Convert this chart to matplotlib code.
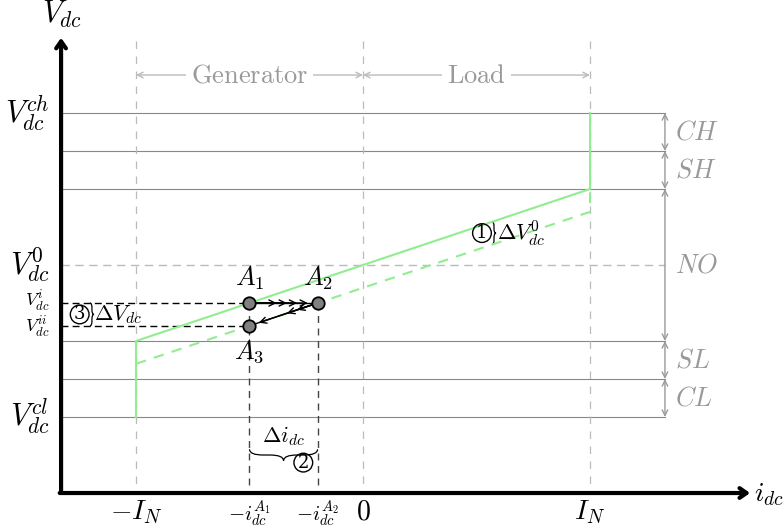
"""
DC voltage droop diagram: operating zones, droop line shift and
operating point moves A1 -> A2 -> A3.
"""
import matplotlib

matplotlib.use('Agg')
import matplotlib.pyplot as plt
from matplotlib.path import Path
from matplotlib.patches import PathPatch

plt.rcParams['mathtext.fontset'] = 'cm'
plt.rcParams['font.family'] = 'DejaVu Serif'

# --- diagram values (x in units of I_N, y in voltage-band steps) ---
level_vals = [4, 3, 2, -2, -3, -4]
zone_names = ['CH', 'SH', 'NO', 'SL', 'CL']
zone_mid = [3.5, 2.5, 0.0, -2.5, -3.5]
droop_x = [-1, -1, 1, 1]
droop_y = [-4, -2, 2, 4]
shifted_x = [-1, 1, 1]
shifted_y = [-2.6, 1.4, 2]
point_x = [-0.5, -0.2, -0.5]
point_y = [-1.0, -1.0, -1.6]
point_names = [r'$A_1$', r'$A_2$', r'$A_3$']
xtick_vals = [-1, -0.5, -0.2, 0, 1]
xtick_labels = [r'$-I_N$', r'$-i_{dc}^{A_1}$', r'$-i_{dc}^{A_2}$', r'$0$', r'$I_N$']
xtick_sizes = [20, 15, 15, 20, 20]
ytick_vals = [4, 0, -0.97, -1.63, -4]
ytick_labels = [r'$V_{dc}^{ch}$', r'$V_{dc}^{0}$', r'$V_{dc}^{i}$', r'$V_{dc}^{ii}$', r'$V_{dc}^{cl}$']
ytick_sizes = [22, 22, 13, 13, 22]
region_edges = [-1, 0, 1]
region_names = ['Generator', 'Load']

X0, Y0 = -1.33, -6.0      # origin of the drawn axes
XR = 1.33                 # right end of level lines / zone bracket
GREEN = '#90ee90'
LGRAY = '#bbbbbb'
MGRAY = '#999999'


def brace(ax, x0, y0, x1, y1, w, **kw):
    """Curly brace from (x0,y0) to (x1,y1); tip offset by w (perpendicular)."""
    if x0 == x1:  # vertical brace, tip to the right by w
        ym = (y0 + y1) / 2
        r = abs(y1 - y0) / 5
        s = 1 if y1 > y0 else -1
        xm = x0 + w / 2
        verts = [(x0, y0), (xm, y0), (xm, y0 + s * r),
                 (xm, ym - s * r),
                 (xm, ym), (x0 + w, ym),
                 (xm, ym), (xm, ym + s * r),
                 (xm, y1 - s * r),
                 (xm, y1), (x0, y1)]
    else:  # horizontal brace, tip offset in y by w
        xm_ = (x0 + x1) / 2
        r = abs(x1 - x0) / 5
        s = 1 if x1 > x0 else -1
        ym = y0 + w / 2
        verts = [(x0, y0), (x0, ym), (x0 + s * r, ym),
                 (xm_ - s * r, ym),
                 (xm_, ym), (xm_, y0 + w),
                 (xm_, ym), (xm_ + s * r, ym),
                 (x1 - s * r, ym),
                 (x1, ym), (x1, y0)]
    codes = [Path.MOVETO, Path.CURVE3, Path.CURVE3, Path.LINETO,
             Path.CURVE3, Path.CURVE3, Path.CURVE3, Path.CURVE3,
             Path.LINETO, Path.CURVE3, Path.CURVE3]
    ax.add_patch(PathPatch(Path(verts, codes), fill=False, **kw))


def chevron_arrow(ax, p0, p1, fracs, shrink=7):
    ax.plot([p0[0], p1[0]], [p0[1], p1[1]], color='black', lw=1.0, zorder=4)
    for f in fracs:
        end = (p0[0] + f * (p1[0] - p0[0]), p0[1] + f * (p1[1] - p0[1]))
        ax.annotate('', xy=end, xytext=p0,
                    arrowprops=dict(arrowstyle='->,head_length=0.45,head_width=0.22',
                                    color='black', lw=1.0,
                                    shrinkA=0, shrinkB=shrink if f == 1 else 0),
                    zorder=4)


def circled(ax, x, y, s):
    ax.text(x, y, s, fontsize=13, ha='center', va='center',
            bbox=dict(boxstyle='circle,pad=0.02', fc='none', ec='black', lw=1.0))


fig = plt.figure(figsize=(7.83, 5.32), dpi=100)
ax = fig.add_axes([0, 0, 1, 1])
ax.set_xlim(-1.599, 1.850)
ax.set_ylim(-7.026, 6.974)
ax.axis('off')

# level lines and zero line
for v in level_vals:
    ax.plot([X0, XR], [v, v], color='#888888', lw=0.8, zorder=1)
ax.plot([X0, XR], [0, 0], color=LGRAY, lw=1.0, ls=(0, (6, 4)), zorder=1)
for xe in region_edges:
    ax.plot([xe, xe], [5.9, Y0], color=LGRAY, lw=0.9, ls=(0, (6, 6)), zorder=1)

# zone bracket on the right
for top, bot in zip(level_vals[:-1], level_vals[1:]):
    ax.annotate('', xy=(XR, bot), xytext=(XR, top),
                arrowprops=dict(arrowstyle='<->,head_length=0.4,head_width=0.2',
                                color=MGRAY, lw=1.0, shrinkA=0, shrinkB=0))
for name, ym in zip(zone_names, zone_mid):
    ax.text(1.375, ym, '$%s$' % name, color=MGRAY, fontsize=19,
            ha='left', va='center')

# generator / load span arrows
for (xa, xb), name in zip(zip(region_edges[:-1], region_edges[1:]), region_names):
    ax.annotate('', xy=(xb, 5.0), xytext=(xa, 5.0),
                arrowprops=dict(arrowstyle='<->,head_length=0.4,head_width=0.2',
                                color=LGRAY, lw=1.0, shrinkA=0, shrinkB=0))
    ax.text((xa + xb) / 2, 5.0, r'$\mathrm{%s}$' % name, color=MGRAY, fontsize=19,
            ha='center', va='center',
            bbox=dict(boxstyle='square,pad=0.2', fc='white', ec='none'))

# droop lines
ax.plot(droop_x, droop_y, color=GREEN, lw=1.5, zorder=3)
ax.plot(shifted_x, shifted_y, color=GREEN, lw=1.5, ls=(0, (5, 4)), zorder=3)

# helper dashed lines to the operating points
ax.plot([X0, point_x[0]], [point_y[0], point_y[0]], color='black', lw=1.0,
        ls=(0, (5, 3)), zorder=2)
ax.plot([X0, point_x[2]], [point_y[2], point_y[2]], color='black', lw=1.0,
        ls=(0, (5, 3)), zorder=2)
ax.plot([point_x[0], point_x[0]], [point_y[0], Y0], color='#444444', lw=1.0,
        ls=(0, (5, 4)), zorder=2)
ax.plot([point_x[1], point_x[1]], [point_y[1], Y0], color='#444444', lw=1.0,
        ls=(0, (5, 4)), zorder=2)

# moves between operating points
chevron_arrow(ax, (point_x[0], point_y[0]), (point_x[1], point_y[1]), [0.4, 0.55, 0.7, 1.0])
chevron_arrow(ax, (point_x[1], point_y[1]), (point_x[2], point_y[2]), [0.3, 0.45, 1.0])

ax.scatter(point_x, point_y, s=80, color='#808080', edgecolor='black',
           linewidth=1.3, zorder=5)
ax.text(point_x[0], point_y[0] + 0.3, point_names[0], fontsize=19, ha='center', va='bottom')
ax.text(point_x[1], point_y[1] + 0.3, point_names[1], fontsize=19, ha='center', va='bottom')
ax.text(point_x[2], point_y[2] - 0.3, point_names[2], fontsize=19, ha='center', va='top')

# annotation 1: droop shift
brace(ax, 0.568, 0.536, 0.568, 1.136, 0.018, color='black', lw=0.9)
circled(ax, 0.524, 0.84, '1')
ax.text(0.59, 0.84, r'$\Delta V_{dc}^{0}$', fontsize=16, ha='left', va='center')

# annotation 3: voltage change
brace(ax, -1.203, point_y[2], -1.203, point_y[0], 0.018, color='black', lw=0.9)
circled(ax, -1.248, -1.3, '3')
ax.text(-1.183, -1.3, r'$\Delta V_{dc}$', fontsize=16, ha='left', va='center')

# annotation 2: current change
brace(ax, point_x[0], -4.85, point_x[1], -4.85, -0.3, color='black', lw=0.9)
ax.text((point_x[0] + point_x[1]) / 2, -4.5, r'$\Delta i_{dc}$', fontsize=16,
        ha='center', va='center')
circled(ax, -0.263, -5.2, '2')

# main axes
ax.annotate('', xy=(X0, 5.98), xytext=(X0, Y0),
            arrowprops=dict(arrowstyle='->,head_length=0.5,head_width=0.35',
                            color='black', lw=3, shrinkA=0, shrinkB=0), zorder=6)
ax.annotate('', xy=(1.705, Y0), xytext=(X0 - 0.006, Y0),
            arrowprops=dict(arrowstyle='->,head_length=0.5,head_width=0.35',
                            color='black', lw=3, shrinkA=0, shrinkB=0), zorder=6)
ax.text(X0 + 0.005, 6.6, r'$V_{dc}$', fontsize=22, ha='center', va='center')
ax.text(1.722, Y0 - 0.05, r'$i_{dc}$', fontsize=20, ha='left', va='center')

for xv, lab, fs in zip(xtick_vals, xtick_labels, xtick_sizes):
    ax.text(xv, Y0 - 0.15, lab, fontsize=fs, ha='center', va='top')
for yv, lab, fs in zip(ytick_vals, ytick_labels, ytick_sizes):
    ax.text(X0 - 0.05, yv, lab, fontsize=fs, ha='right', va='center')

fig.savefig('out.png', dpi=100)
